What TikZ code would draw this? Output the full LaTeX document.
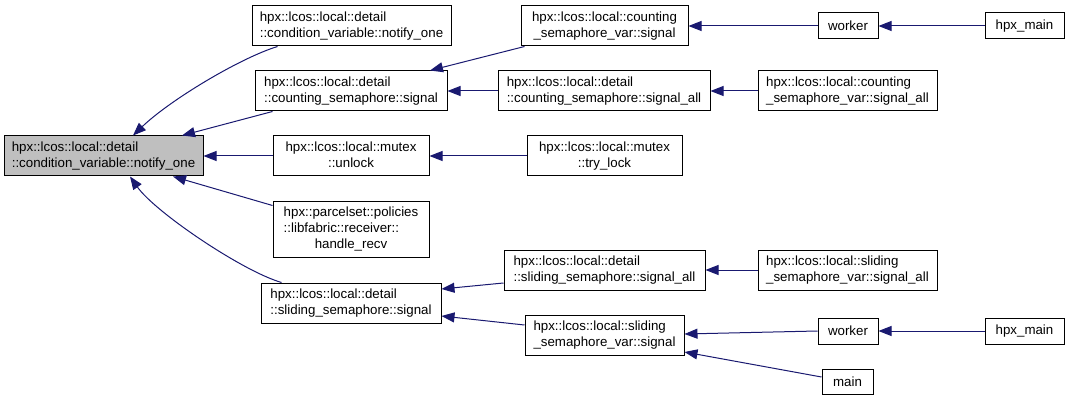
\documentclass[tikz,border=0pt]{standalone}
\usepackage{fontspec}
\setmainfont{Liberation Sans}
\usetikzlibrary{arrows.meta}
\definecolor{edgeblue}{HTML}{191970}
\definecolor{rootgrey}{HTML}{BFBFBF}
\newcommand{\twol}[2]{\begin{tabular}{@{}l@{}}#1\\\multicolumn{1}{@{}c@{}}{#2}\end{tabular}}
\newcommand{\threel}[3]{\begin{tabular}{@{}l@{}}#1\\#2\\\multicolumn{1}{@{}c@{}}{#3}\end{tabular}}
\begin{document}
\begin{tikzpicture}[x=1pt,y=-1pt,
  box/.style={draw=black, line width=1pt, fill=white, inner sep=0pt, minimum height=40pt, font=\fontsize{13.3}{16}\selectfont},
  small/.style={box, minimum height=26pt},
  rootbox/.style={box, fill=rootgrey},
  edge/.style={draw=edgeblue, line width=1pt, -{Triangle[length=13pt,width=10pt]}}]
\useasboundingbox (0,0) rectangle (1069,401);
% column 0
\node[rootbox, minimum width=199pt] (Root) at (103.5,156) {\twol{hpx::lcos::local::detail}{::condition\_variable::notify\_one}};
% column 1
\node[box, minimum width=199pt] (A) at (351.5,26) {\twol{hpx::lcos::local::detail}{::condition\_variable::notify\_one}};
\node[box, minimum width=192pt] (B) at (351,91) {\twol{hpx::lcos::local::detail}{::counting\_semaphore::signal}};
\node[box, minimum width=156pt] (C) at (351,156) {\twol{hpx::lcos::local::mutex}{::unlock}};
\node[box, minimum width=156pt, minimum height=55pt] (D) at (351,229.5) {\threel{hpx::parcelset::policies}{::libfabric::receiver::}{handle\_recv}};
\node[box, minimum width=180pt] (E) at (351,303) {\twol{hpx::lcos::local::detail}{::sliding\_semaphore::signal}};
% column 2
\node[box, minimum width=167pt] (F) at (604.5,26) {\twol{hpx::lcos::local::counting}{\_semaphore\_var::signal}};
\node[box, minimum width=212pt] (G) at (604,91) {\twol{hpx::lcos::local::detail}{::counting\_semaphore::signal\_all}};
\node[box, minimum width=155pt] (H) at (604.5,156) {\twol{hpx::lcos::local::mutex}{::try\_lock}};
\node[box, minimum width=201pt] (I) at (604.5,270) {\twol{hpx::lcos::local::detail}{::sliding\_semaphore::signal\_all}};
\node[box, minimum width=159pt] (J) at (604.5,335) {\twol{hpx::lcos::local::sliding}{\_semaphore\_var::signal}};
% column 3
\node[small, minimum width=60pt] (K) at (848,26) {worker};
\node[box, minimum width=179pt] (L) at (847.5,91) {\twol{hpx::lcos::local::counting}{\_semaphore\_var::signal\_all}};
\node[box, minimum width=179pt] (M) at (847.5,270) {\twol{hpx::lcos::local::sliding}{\_semaphore\_var::signal\_all}};
\node[small, minimum width=60pt] (N) at (848,331) {worker};
\node[small, minimum width=51pt, minimum height=25pt] (O) at (847.5,381.5) {main};
% column 4
\node[small, minimum width=79pt] (P) at (1024.5,26) {hpx\_main};
\node[small, minimum width=79pt] (Q) at (1024.5,331) {hpx\_main};
% edges
\draw[edge] ([xshift=26pt]A.south west) .. controls (240,58) and (170,100) .. ([xshift=29.5pt]Root.north);
\draw[edge] ([xshift=18pt]B.south west) -- ([xshift=78.5pt]Root.north);
\draw[edge] (C.west) -- (Root.east);
\draw[edge] ([yshift=-4pt]D.north west) -- ([xshift=69.5pt]Root.south);
\draw[edge] ([xshift=21pt]E.north west) .. controls (242,271) and (155,212) .. ([xshift=26.5pt]Root.south);
\draw[edge] ([xshift=4pt]F.south west) -- ([xshift=79pt]B.north);
\draw[edge] (G.west) -- (B.east);
\draw[edge] (H.west) -- (C.east);
\draw[edge] ([yshift=-13pt]I.west) -- ([yshift=14pt]E.east);
\draw[edge] ([yshift=10pt]J.west) -- ([yshift=-13pt]E.east);
\draw[edge] (K.west) -- (F.east);
\draw[edge] (L.west) -- (G.east);
\draw[edge] (M.west) -- (I.east);
\draw[edge] (N.west) -- ([yshift=1pt]J.east);
\draw[edge] ([yshift=4.5pt]O.west) -- ([yshift=-17pt]J.east);
\draw[edge] (P.west) -- (K.east);
\draw[edge] (Q.west) -- (N.east);
\end{tikzpicture}
\end{document}
